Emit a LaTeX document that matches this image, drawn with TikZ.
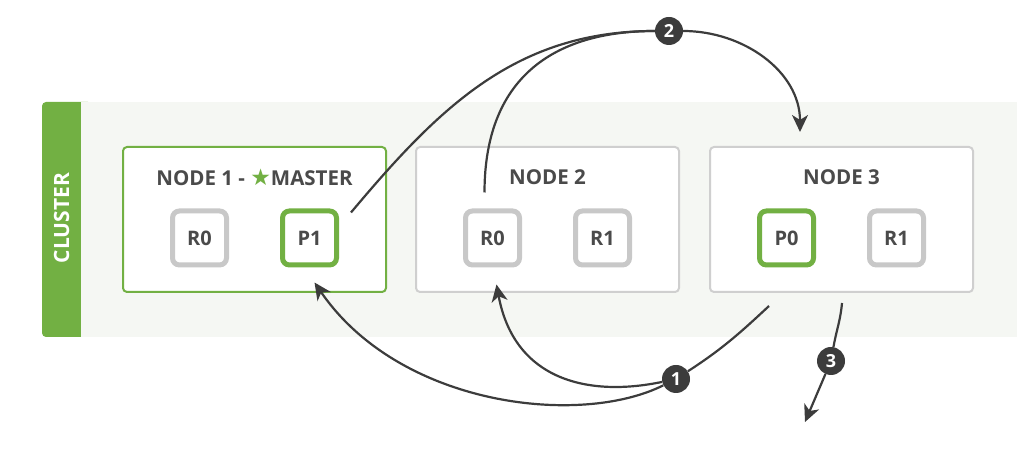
\documentclass[tikz,border=0pt]{standalone}
\usepackage{fontspec}
\setmainfont{Open Sans}
\newfontfamily\starfont{DejaVu Sans}
\usetikzlibrary{arrows.meta,positioning,calc}
\definecolor{leaf}{HTML}{72B043}
\definecolor{ink}{HTML}{4A4A4A}
\definecolor{wire}{HTML}{3C3C3C}
\definecolor{haze}{HTML}{F5F7F3}
\definecolor{frame}{HTML}{CFCFCF}
\definecolor{shardgray}{HTML}{C8C8C8}
\tikzset{>={Stealth[length=17pt,width=16pt,inset=5pt]},nodebox/.style={draw=#1,line width=2pt,rounded corners=4pt,fill=white,minimum width=263pt,minimum height=145pt},shard/.style={draw=#1,line width=5pt,rounded corners=7pt,fill=white,minimum size=54pt,inner sep=0pt,font=\bfseries\fontsize{20}{20}\selectfont,text=ink},title/.style={font=\bfseries\fontsize{20.5}{20.5}\selectfont,text=ink},num/.style={circle,fill=wire,text=white,inner sep=0pt,minimum size=28pt,font=\bfseries\fontsize{18}{18}\selectfont},wireline/.style={line width=2.2pt,wire},arr/.style={->,wireline}}

\begin{document}
\begin{tikzpicture}[x=1pt,y=1pt]
\useasboundingbox (0,0) rectangle (1029,452);
% cluster strip
\fill[leaf,rounded corners=4pt] (42,115) rectangle (92,350);
\fill[haze] (81,115) rectangle (1017,350);
\node[rotate=90,text=white,font=\bfseries\fontsize{21}{21}\selectfont] (clu) at (61.5,234) {CLUSTER};
% nodes
\node[nodebox=leaf] (n1) at (254.5,232.5) {};
\node[nodebox=frame,right=28pt of n1] (n2) {};
\node[nodebox=frame,right=29pt of n2] (n3) {};
\node[title] (t1) at ($(n1.north)+(0,-31)$) {NODE 1 - {\starfont\fontsize{23}{23}\selectfont\textcolor{leaf}{★}}MASTER};
\node[title] (t2) at ($(n2.north)+(0,-31)$) {NODE 2};
\node[title] (t3) at ($(n3.north)+(0,-31)$) {NODE 3};
% shards
\node[shard=shardgray] (r0a) at ($(n1)+(-55,-18.5)$) {R0};
\node[shard=leaf] (p1) at ($(n1)+(55,-18.5)$) {P1};
\node[shard=shardgray] (r0b) at ($(n2)+(-55,-18.5)$) {R0};
\node[shard=shardgray] (r1b) at ($(n2)+(55,-18.5)$) {R1};
\node[shard=leaf] (p0) at ($(n3)+(-55,-18.5)$) {P0};
\node[shard=shardgray] (r1c) at ($(n3)+(55,-18.5)$) {R1};
% steps
\node[num] (c1) at (676,73) {1};
\node[num] (c2) at (669,421) {2};
\node[num] (c3) at (831,91) {3};
\coordinate (s1) at ($(p1.north east)+(12,-4)$);
\coordinate (s2) at ($(r0b.north)+(-8,16)$);
\coordinate (e2) at (800,320);
\coordinate (f1) at ($(n3.south)+(-72.5,-13)$);
\coordinate (ea) at ($(p1.south)+(5,-15)$);
\coordinate (eb) at ($(r0b.south)+(4,-17)$);
\coordinate (f3) at ($(n3.south)+(0.5,-10)$);
\coordinate (e3) at (805,30);
\draw[wireline] (s1) to[out=50,in=180] (c2);
\draw[wireline] (s2) .. controls +(0,120) and +(-109,0) .. (c2);
\draw[arr] (c2) to[out=0,in=90] (e2);
\draw[wireline] (f1) to[out=-137,in=33] (c1);
\draw[arr] (c1) .. controls +(-96,-48) and +(85,-124) .. (ea);
\draw[arr] (c1) .. controls +(-86,-18) and +(18,-97) .. (eb);
\draw[wireline] (f3) to[out=-95,in=80] (c3);
\draw[arr] (c3) -- (e3);
\end{tikzpicture}
\end{document}
